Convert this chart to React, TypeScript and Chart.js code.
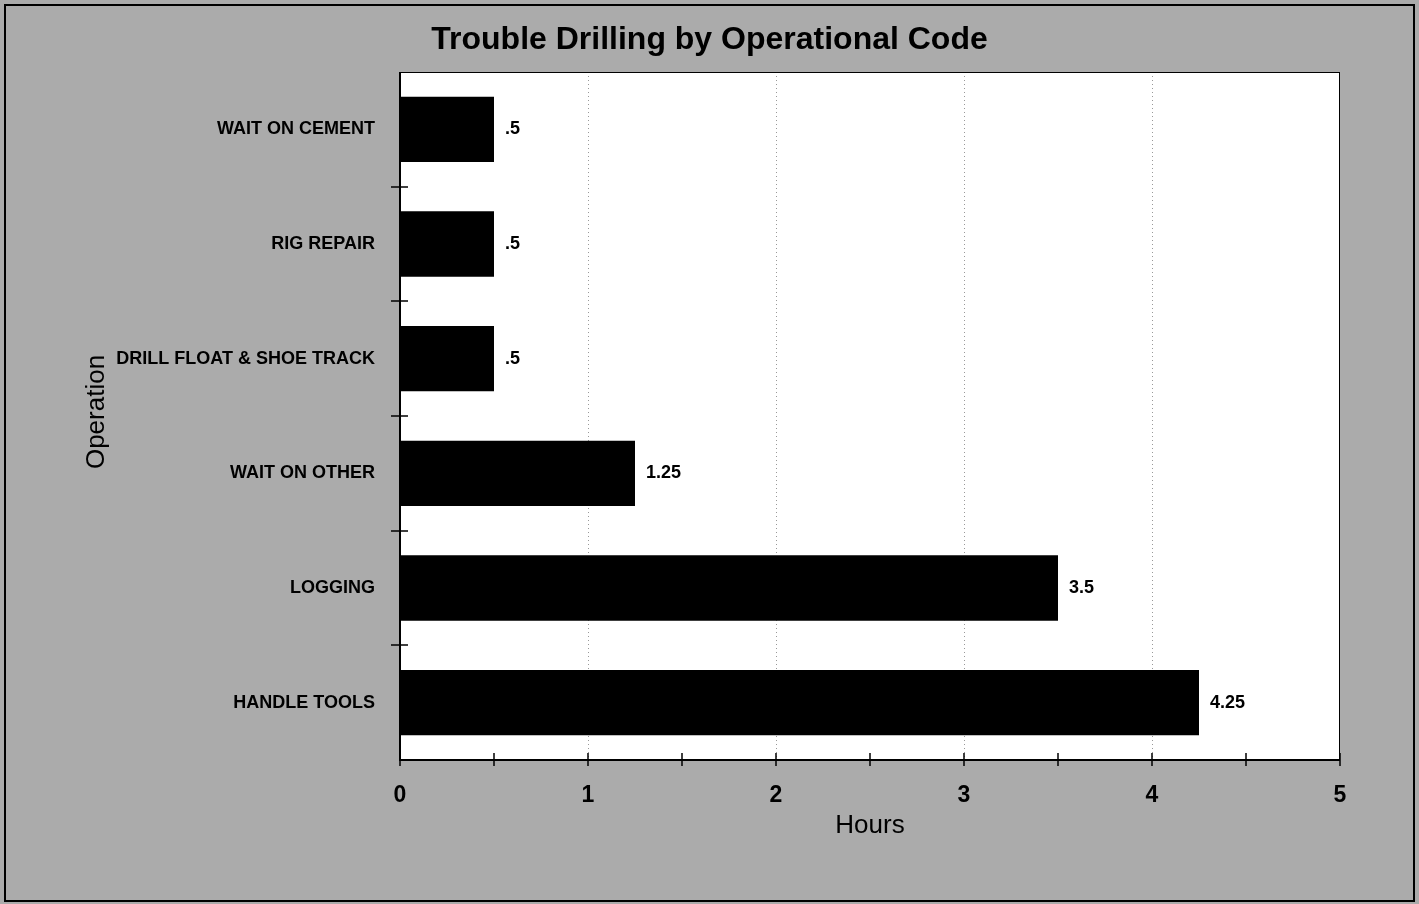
import React, { useEffect, useRef } from "react";
import { Chart, registerables } from "chart.js";
Chart.register(...registerables);

const categories = [
  "WAIT ON CEMENT",
  "RIG REPAIR",
  "DRILL FLOAT & SHOE TRACK",
  "WAIT ON OTHER",
  "LOGGING",
  "HANDLE TOOLS",
];
const hours = [0.5, 0.5, 0.5, 1.25, 3.5, 4.25];
const gridValues = [1, 2, 3, 4];
const minorTickValues = [0, 0.5, 1, 1.5, 2, 2.5, 3, 3.5, 4, 4.5, 5];
const chartTitle = "Trouble Drilling by Operational Code";
const xAxisTitle = "Hours";
const yAxisTitle = "Operation";

const FONT = '"Liberation Sans", Arial, sans-serif';

const fmt = (v: number) => String(v).replace(/^0\./, ".");

const decorPlugin = {
  id: "decor",
  beforeDraw(chart: any) {
    const { ctx, width, height, chartArea: a } = chart;
    ctx.save();
    ctx.fillStyle = "#ababab";
    ctx.fillRect(0, 0, width, height);
    ctx.strokeStyle = "#000";
    ctx.lineWidth = 2;
    ctx.strokeRect(5, 5, width - 10, height - 8);
    ctx.fillStyle = "#ffffff";
    ctx.fillRect(a.left, a.top, a.right - a.left, a.bottom - a.top);
    ctx.restore();
  },
  beforeDatasetsDraw(chart: any) {
    const { ctx, chartArea: a, scales } = chart;
    ctx.save();
    ctx.strokeStyle = "#999";
    ctx.lineWidth = 1;
    ctx.setLineDash([1, 3]);
    gridValues.forEach((v) => {
      const x = Math.round(scales.x.getPixelForValue(v)) + 0.5;
      ctx.beginPath();
      ctx.moveTo(x, a.top);
      ctx.lineTo(x, a.bottom);
      ctx.stroke();
    });
    ctx.restore();
  },
  afterDatasetsDraw(chart: any) {
    const { ctx } = chart;
    const meta = chart.getDatasetMeta(0);
    ctx.save();
    ctx.fillStyle = "#000";
    ctx.font = `bold 18px ${FONT}`;
    ctx.textAlign = "left";
    ctx.textBaseline = "middle";
    meta.data.forEach((bar: any, i: number) => {
      ctx.fillText(fmt(hours[i]), bar.x + 11, bar.y);
    });
    ctx.restore();
  },
  afterDraw(chart: any) {
    const { ctx, chartArea: a, width, scales } = chart;
    ctx.save();
    ctx.strokeStyle = "#000";
    ctx.lineWidth = 1;
    ctx.beginPath();
    ctx.moveTo(a.left, a.top + 0.5);
    ctx.lineTo(a.right, a.top + 0.5);
    ctx.moveTo(a.right - 0.5, a.top);
    ctx.lineTo(a.right - 0.5, a.bottom);
    ctx.stroke();
    ctx.lineWidth = 2;
    ctx.beginPath();
    ctx.moveTo(a.left, a.top);
    ctx.lineTo(a.left, a.bottom);
    ctx.lineTo(a.right, a.bottom);
    ctx.stroke();

    // x ticks crossing the axis
    ctx.lineWidth = 1.5;
    ctx.beginPath();
    minorTickValues.forEach((v) => {
      const x = Math.round(scales.x.getPixelForValue(v));
      ctx.moveTo(x, a.bottom - 7);
      ctx.lineTo(x, a.bottom + 6);
    });
    // y ticks at category boundaries crossing the axis
    for (let i = 1; i < categories.length; i++) {
      const y = Math.round(
        (scales.y.getPixelForValue(i - 1) + scales.y.getPixelForValue(i)) / 2
      );
      ctx.moveTo(a.left - 9, y);
      ctx.lineTo(a.left + 8, y);
    }
    ctx.stroke();

    ctx.fillStyle = "#000";
    ctx.textAlign = "center";
    ctx.textBaseline = "middle";
    ctx.font = `bold 32px ${FONT}`;
    ctx.fillText(chartTitle, width / 2, 40);

    ctx.font = `26px ${FONT}`;
    ctx.fillText(xAxisTitle, (a.left + a.right) / 2, 826);

    ctx.translate(97, 412);
    ctx.rotate(-Math.PI / 2);
    ctx.fillText(yAxisTitle, 0, 0);
    ctx.restore();
  },
};

export default function App() {
  const ref = useRef<HTMLCanvasElement | null>(null);
  useEffect(() => {
    if (!ref.current) return;
    const chart = new Chart(ref.current, {
      type: "bar",
      data: {
        labels: categories,
        datasets: [
          {
            data: hours,
            backgroundColor: "#000",
            borderWidth: 0,
            barPercentage: 0.57,
            categoryPercentage: 1,
          },
        ],
      },
      options: {
        indexAxis: "y",
        animation: false,
        responsive: false,
        devicePixelRatio: 1,
        layout: { padding: { top: 72, right: 79, left: 0, bottom: 0 } },
        plugins: {
          legend: { display: false },
          title: { display: false },
          tooltip: { enabled: false },
        },
        scales: {
          x: {
            type: "linear",
            min: 0,
            max: 5,
            afterFit: (s: any) => {
              s.height = 144;
            },
            border: { display: false },
            grid: {
              drawOnChartArea: false,
              drawTicks: true,
              tickLength: 8,
              color: "rgba(0,0,0,0)",
            },
            ticks: {
              stepSize: 1,
              autoSkip: false,
              maxRotation: 0,
              padding: 14,
              color: "#000",
              font: { family: FONT, size: 23, weight: "bold" },
            },
          },
          y: {
            type: "category",
            offset: true,
            afterFit: (s: any) => {
              s.width = 400;
            },
            border: { display: false },
            grid: {
              offset: true,
              drawOnChartArea: false,
              drawTicks: true,
              tickLength: 8,
              color: "rgba(0,0,0,0)",
            },
            ticks: {
              padding: 17,
              color: "#000",
              font: { family: FONT, size: 18, weight: "bold" },
            },
          },
        },
      },
      plugins: [decorPlugin],
    } as any);
    return () => chart.destroy();
  }, []);
  return (
    <div style={{ position: "absolute", left: 0, top: 0, width: 1419, height: 904 }}>
      <canvas ref={ref} width={1419} height={904} />
    </div>
  );
}
